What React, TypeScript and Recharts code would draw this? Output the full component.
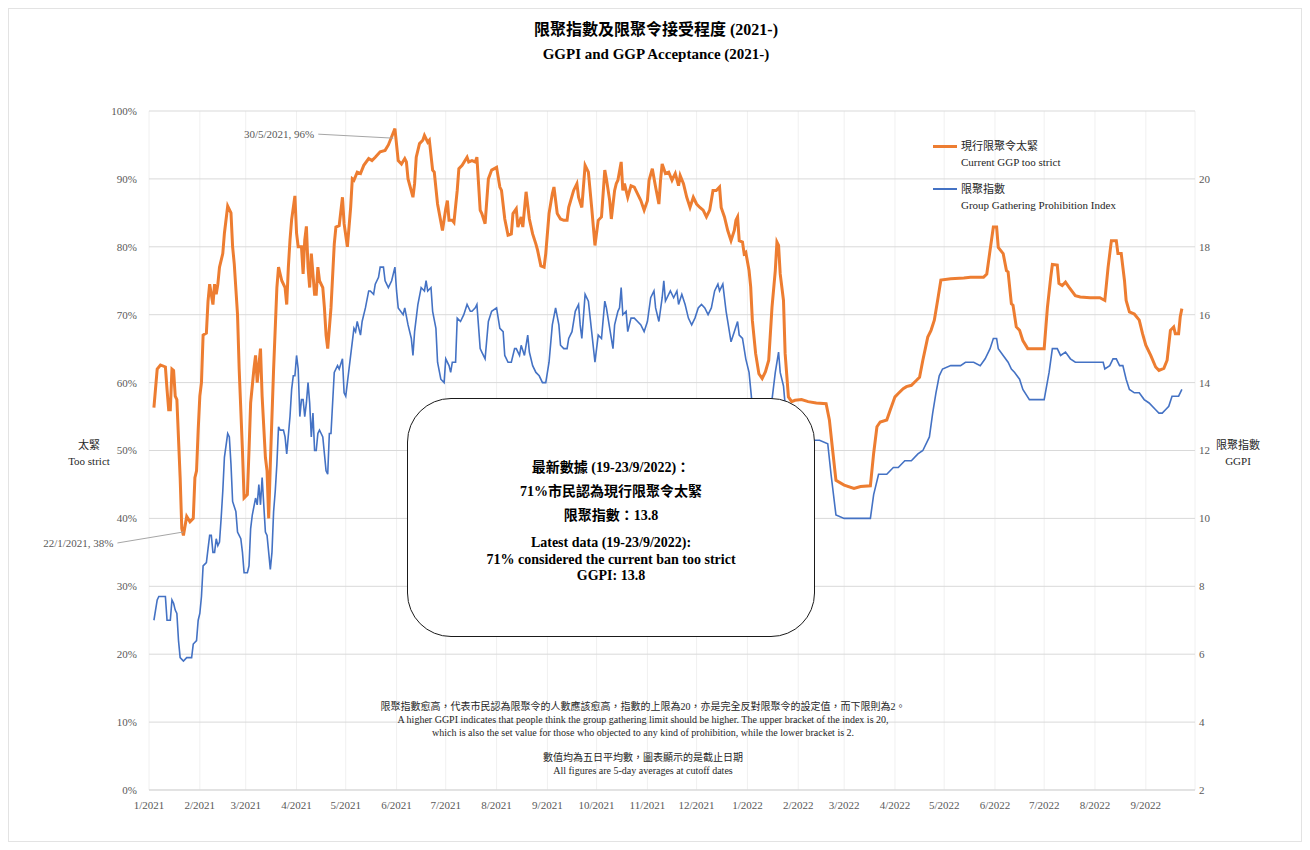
import React from 'react';
import { LineChart, Line, XAxis, YAxis, CartesianGrid, ReferenceDot } from 'recharts';

// x values are days counted from 1 Jan 2021
const strictDays = [
  3, 5, 7, 10, 11, 12, 13, 14, 15, 16, 17, 19, 20, 21, 23, 25, 27, 28, 29, 30, 31, 32, 33, 35, 36, 37, 39, 40, 41, 42, 43, 45, 46, 48, 50,
  51, 52, 54, 55, 57, 58, 60, 61, 62, 64, 65, 66, 68, 69, 71, 72, 73, 74, 76, 78, 79, 81, 83, 84, 85, 86, 87, 89, 90, 91, 93, 94, 95, 96,
  97, 98, 99, 101, 102, 103, 104, 106, 107, 108, 109, 111, 113, 114, 116, 118, 119, 121, 123, 124, 125, 127, 129, 131, 134, 136, 138, 141,
  144, 146, 148, 150, 152, 154, 156, 157, 158, 161, 162, 163, 165, 167, 168, 170, 171, 173, 174, 176, 179, 181, 182, 183, 185, 186, 188,
  189, 191, 194, 195, 197, 199, 200, 202, 203, 205, 207, 209, 212, 214, 215, 217, 219, 221, 222, 224, 225, 227, 228, 230, 232, 234, 236,
  237, 239, 241, 242, 244, 246, 247, 249, 251, 253, 255, 256, 259, 261, 262, 264, 266, 268, 270, 272, 274, 276, 278, 279, 281, 282, 284,
  285, 286, 288, 289, 290, 292, 294, 296, 298, 300, 302, 304, 305, 307, 309, 311, 312, 313, 315, 317, 319, 321, 323, 324, 326, 328, 330,
  332, 334, 336, 338, 340, 342, 344, 346, 348, 349, 351, 353, 355, 357, 358, 359, 360, 362, 363, 364, 366, 367, 368, 370, 372, 374, 376,
  378, 380, 382, 383, 384, 385, 387, 388, 390, 392, 394, 398, 402, 407, 413, 415, 417, 419, 424, 430, 434, 440, 442, 444, 446, 450, 452,
  455, 457, 460, 462, 465, 468, 470, 472, 475, 477, 479, 481, 483, 489, 497, 501, 509, 511, 513, 515, 517, 518, 521, 523, 524, 526, 527,
  529, 531, 533, 536, 541, 546, 548, 550, 551, 554, 555, 557, 559, 561, 565, 568, 574, 580, 583, 585, 587, 590, 591, 593, 595, 596, 598,
  601, 604, 606, 608, 611, 614, 616, 619, 621, 623, 625, 626, 628, 629, 630,
];
const strictPct = [
  56.3, 62, 62.6, 62.3, 59, 56, 56, 62, 61.8, 58, 57.5, 46, 38.5, 37.5, 40.3, 39.5, 40, 46, 47, 53, 58, 60, 67, 67.3, 72, 74.5, 71.5, 74.5,
  73, 74.5, 77, 79, 82, 86, 85, 80, 77.5, 70, 62, 50, 43, 43.5, 50, 57, 62, 64, 60, 65, 58, 49, 47, 40, 48, 62, 74, 77, 75, 74, 71.5, 77,
  81, 84, 87.5, 82, 80, 80, 76, 81, 83, 77, 74, 79, 73, 73, 77, 75, 74, 71, 67, 65, 71, 80.4, 82.9, 83.1, 87.3, 83.4, 80, 85.8, 90, 89.8,
  91, 90.8, 92, 93, 92.7, 93.2, 94, 94.2, 95, 96.2, 97.4, 92.7, 92.2, 93, 92.5, 90, 87.3, 89.3, 93.2, 95.2, 95.7, 96.4, 95.4, 95.7, 91.3,
  91, 86.3, 82.4, 85.6, 86.8, 83.9, 83.9, 83.6, 88.3, 91.5, 92, 93.2, 92.5, 92.7, 92.5, 93.2, 85.4, 84.9, 83.4, 90, 91.3, 91.7, 88.8,
  88.3, 84.1, 81.7, 81.9, 84.9, 85.6, 82.9, 84.4, 82.9, 88.1, 84.1, 81.9, 80.4, 79.5, 77.2, 77, 79, 84.9, 87.8, 88.8, 84.9, 84.1, 83.9,
  83.9, 85.8, 88.3, 89.3, 87.3, 85.8, 92, 91, 85.8, 80.2, 83.9, 84.4, 91.3, 90, 86.8, 84.1, 88.3, 89.3, 89.8, 92.5, 88.3, 89.3, 87.3, 89,
  88.8, 87.8, 86.8, 85.4, 86.8, 89.8, 91.5, 88.8, 86.3, 89.8, 92.2, 90.8, 91, 89.8, 90.8, 89, 90.5, 89.3, 87.3, 85.8, 87.3, 86.3, 85.8,
  85.4, 84.4, 85.4, 88.3, 88.3, 88.8, 85.8, 84.4, 82.4, 80.9, 82.4, 83.9, 84.4, 80.9, 80.7, 79, 79.2, 76.5, 74.1, 69.2, 64.3, 61.3, 60.6,
  61.6, 63.3, 71.1, 76.5, 80.7, 80.2, 76, 72.1, 64.3, 57.9, 57.2, 57.4, 57.5, 57.2, 57, 56.9, 54.5, 50, 45.6, 44.9, 44.4, 44.7, 44.8, 49.6,
  53.5, 54.2, 54.5, 55.9, 57.9, 58.4, 59.1, 59.4, 59.6, 60.3, 60.8, 63.3, 66.7, 67.7, 69.2, 72.1, 75.1, 75.3, 75.4, 75.5, 75.5, 76, 79.5,
  82.9, 82.9, 79.9, 79, 76.5, 76.3, 71.6, 71.4, 68.2, 67.7, 66.2, 65, 65, 65, 71.1, 75.5, 77.4, 77.3, 74.6, 74.3, 74.8, 74.1, 72.8, 72.6,
  72.5, 72.5, 72.1, 77, 80.9, 80.9, 79, 79, 75, 72.1, 70.4, 70.1, 69.2, 67.2, 65.5, 64, 62.3, 61.8, 62.1, 63.3, 67.7, 68.2, 67.2, 67.2,
  69.7, 70.9,
];

const ggpiDays = [
  3, 5, 6, 10, 11, 13, 14, 15, 16, 17, 18, 19, 21, 23, 26, 27, 29, 30, 31, 32, 33, 35, 36, 37, 38, 39, 40, 41, 42, 43, 44, 45, 46, 48, 49,
  50, 51, 53, 54, 55, 56, 57, 58, 60, 61, 62, 63, 65, 66, 67, 68, 69, 70, 71, 72, 73, 74, 75, 76, 77, 78, 79, 80, 82, 83, 84, 86, 87, 88,
  89, 90, 91, 92, 93, 94, 95, 96, 97, 98, 99, 100, 101, 102, 103, 104, 105, 106, 107, 108, 109, 110, 111, 113, 115, 116, 118, 119, 120,
  121, 123, 125, 126, 127, 129, 130, 132, 134, 135, 137, 138, 140, 141, 143, 144, 146, 148, 150, 151, 152, 155, 156, 158, 160, 161, 162,
  164, 166, 168, 169, 170, 172, 173, 175, 176, 178, 180, 181, 183, 184, 185, 187, 188, 190, 192, 194, 196, 197, 199, 200, 202, 203, 205,
  207, 209, 212, 214, 216, 217, 219, 221, 223, 224, 226, 227, 229, 231, 232, 234, 236, 238, 240, 242, 244, 246, 248, 250, 251, 253, 255,
  256, 258, 260, 262, 263, 264, 266, 268, 270, 272, 274, 276, 278, 279, 281, 283, 284, 286, 287, 288, 289, 291, 292, 294, 296, 298, 300,
  302, 304, 306, 308, 309, 311, 313, 314, 315, 318, 320, 322, 323, 325, 327, 329, 331, 333, 335, 337, 339, 341, 343, 345, 347, 348, 350,
  352, 353, 355, 357, 359, 360, 362, 364, 366, 368, 370, 372, 374, 376, 378, 380, 382, 384, 385, 387, 389, 391, 395, 400, 405, 409, 414,
  416, 419, 424, 430, 440, 442, 445, 450, 454, 457, 461, 465, 469, 472, 475, 476, 478, 480, 482, 484, 489, 495, 498, 503, 507, 510, 513,
  515, 517, 518, 521, 524, 526, 528, 531, 533, 537, 542, 546, 549, 551, 554, 556, 559, 562, 565, 572, 578, 582, 583, 586, 588, 590, 592,
  594, 596, 598, 601, 604, 607, 610, 614, 616, 618, 620, 622, 624, 626, 628, 630,
];
const ggpiValues = [
  7.0, 7.6, 7.7, 7.7, 7.0, 7.0, 7.6, 7.5, 7.3, 7.2, 6.4, 5.9, 5.8, 5.9, 5.9, 6.3, 6.4, 7.0, 7.2, 7.7, 8.6, 8.7, 9.1, 9.5, 9.5, 9.0, 9.0,
  9.4, 9.2, 9.3, 10.0, 10.8, 11.8, 12.5, 12.4, 11.6, 10.5, 10.2, 9.6, 9.5, 9.4, 9.0, 8.4, 8.4, 8.6, 9.7, 10.1, 10.6, 10.4, 11.0, 10.4,
  11.2, 10.4, 9.6, 9.5, 9.0, 8.5, 9.0, 10.2, 10.8, 11.6, 12.7, 12.6, 12.6, 12.4, 11.9, 13.0, 13.8, 14.2, 14.2, 14.8, 14.4, 13.0, 13.5,
  13.5, 13.0, 13.4, 14.0, 13.4, 12.4, 13.1, 12.0, 12.0, 12.5, 12.6, 12.5, 12.4, 11.9, 11.4, 11.3, 12.5, 12.5, 14.3, 14.5, 14.4, 14.7,
  13.7, 13.6, 14.0, 14.8, 15.6, 15.5, 15.8, 15.4, 15.8, 16.2, 16.7, 16.7, 16.6, 16.9, 17.1, 17.4, 17.4, 17.0, 16.8, 17.0, 17.4, 16.7,
  16.2, 16.0, 16.2, 15.7, 15.3, 14.8, 15.5, 16.3, 16.8, 16.7, 17.0, 16.7, 16.8, 16.1, 15.6, 14.6, 14.1, 14.0, 14.7, 14.5, 14.3, 14.6,
  14.6, 15.9, 15.8, 16.0, 16.3, 16.1, 16.1, 16.2, 16.3, 15.0, 14.9, 14.7, 15.8, 16.1, 16.2, 15.6, 15.5, 14.8, 14.6, 14.6, 15.0, 15.0,
  14.8, 15.1, 14.8, 15.4, 14.9, 14.5, 14.3, 14.2, 14.0, 14.0, 14.6, 15.7, 16.2, 15.7, 15.1, 15.0, 15.0, 15.3, 15.5, 16.1, 16.3, 15.7,
  15.3, 16.6, 16.4, 15.5, 14.6, 15.4, 15.3, 16.4, 16.2, 15.6, 15.0, 15.7, 16.1, 16.2, 16.8, 16.0, 16.1, 15.5, 15.9, 15.9, 15.8, 15.7,
  15.5, 15.8, 16.5, 16.7, 16.2, 15.8, 16.5, 17.0, 16.4, 16.7, 16.5, 16.7, 16.3, 16.6, 16.3, 15.9, 15.7, 15.9, 16.2, 16.3, 16.2, 16.0,
  16.2, 16.7, 16.9, 16.7, 16.9, 16.1, 15.8, 15.2, 15.5, 15.8, 15.4, 15.3, 14.7, 14.3, 13.3, 12.0, 11.2, 10.9, 11.0, 11.8, 13.5, 14.3,
  14.9, 14.3, 13.9, 12.8, 12.3, 12.3, 12.3, 12.3, 12.3, 12.2, 11.3, 10.1, 10.0, 10.0, 10.0, 10.7, 11.3, 11.3, 11.5, 11.5, 11.7, 11.7,
  11.9, 12.0, 12.3, 12.4, 13.1, 13.7, 14.2, 14.4, 14.5, 14.5, 14.6, 14.6, 14.5, 14.7, 15.0, 15.3, 15.3, 15.0, 14.8, 14.6, 14.4, 14.3,
  14.1, 13.8, 13.5, 13.5, 13.5, 14.3, 15.0, 15.0, 14.8, 14.9, 14.7, 14.6, 14.6, 14.6, 14.6, 14.4, 14.5, 14.7, 14.7, 14.5, 14.5, 14.1,
  13.8, 13.7, 13.7, 13.5, 13.4, 13.2, 13.1, 13.1, 13.2, 13.3, 13.6, 13.6, 13.6, 13.8,
];

const monthTicks = [0, 31, 59, 90, 120, 151, 181, 212, 243, 273, 304, 334, 365, 396, 424, 455, 485, 516, 546, 577, 608];
const monthLabels = [
  '1/2021', '2/2021', '3/2021', '4/2021', '5/2021', '6/2021', '7/2021', '8/2021', '9/2021', '10/2021', '11/2021', '12/2021',
  '1/2022', '2/2022', '3/2022', '4/2022', '5/2022', '6/2022', '7/2022', '8/2022', '9/2022',
];
const pctTicks = [0, 10, 20, 30, 40, 50, 60, 70, 80, 90, 100];
const ggpiTicks = [2, 4, 6, 8, 10, 12, 14, 16, 18, 20];

const strictData = strictDays.map((d, i) => ({ day: d, pct: strictPct[i] }));
const ggpiData = ggpiDays.map((d, i) => ({ day: d, ggpi: ggpiValues[i] }));

const ORANGE = '#ED7D31';
const BLUE = '#4472C4';
const SERIF = '"Liberation Serif", "Times New Roman", "Noto Sans CJK TC", serif';
const tickStyle = { fontFamily: SERIF, fontSize: 11, fill: '#595959' };

function Callout({ cx, cy, text, dx, dy }: any) {
  if (cx == null || cy == null) return null;
  return (
    <g>
      <line x1={cx + dx} y1={cy + dy} x2={cx} y2={cy} stroke="#a6a6a6" strokeWidth={1} />
      <text x={cx + dx - 4} y={cy + dy + 4} textAnchor="end" style={tickStyle}>
        {text}
      </text>
    </g>
  );
}

export default function App() {
  const abs = (l: number, t: number, extra: any = {}) => ({ position: 'absolute' as const, left: l, top: t, ...extra });
  return (
    <div style={{ position: 'relative', width: 1294, height: 834, fontFamily: SERIF, color: '#262626', border: '1px solid #e3e3e3', boxSizing: 'border-box' }}>
      <div style={abs(0, 9, { width: 1294, textAlign: 'center', fontWeight: 'bold', fontSize: 15, lineHeight: '24px', color: '#000' })}>
        <div style={{ fontSize: 16 }}>限聚指數及限聚令接受程度 (2021-)</div>
        <div>GGPI and GGP Acceptance (2021-)</div>
      </div>

      <div style={abs(0, 0)}>
        <LineChart width={1294} height={834} margin={{ top: 102, left: 90, right: 62, bottom: 25 }}>
          <CartesianGrid yAxisId="left" horizontal={false} vertical stroke="#f0f0f0" />
          <CartesianGrid yAxisId="left" horizontal vertical={false} stroke="#d9d9d9" />
          <XAxis
            dataKey="day"
            type="number"
            domain={[0, 638]}
            ticks={monthTicks}
            tickFormatter={(v: number) => monthLabels[monthTicks.indexOf(v)] ?? ''}
            interval={0}
            tick={tickStyle}
            tickLine={false}
            axisLine={{ stroke: '#d9d9d9' }}
            tickMargin={5}
            height={28}
          />
          <YAxis
            yAxisId="left"
            domain={[0, 100]}
            ticks={pctTicks}
            tickFormatter={(v: number) => `${v}%`}
            tick={tickStyle}
            tickLine={false}
            axisLine={false}
            width={50}
            tickMargin={6}
          />
          <YAxis
            yAxisId="right"
            orientation="right"
            domain={[2, 22]}
            ticks={ggpiTicks}
            tick={tickStyle}
            tickLine={false}
            tickSize={0}
            axisLine={false}
            width={46}
            tickMargin={4}
          />
          <Line
            yAxisId="right"
            data={ggpiData}
            dataKey="ggpi"
            stroke={BLUE}
            strokeWidth={1.6}
            dot={false}
            isAnimationActive={false}
          />
          <Line
            yAxisId="left"
            data={strictData}
            dataKey="pct"
            stroke={ORANGE}
            strokeWidth={3}
            dot={false}
            isAnimationActive={false}
          />
          <ReferenceDot
            yAxisId="left"
            x={149}
            y={96}
            r={0}
            shape={(p: any) => <Callout cx={p.cx} cy={p.cy} dx={-75} dy={-4} text="30/5/2021, 96%" />}
          />
          <ReferenceDot
            yAxisId="left"
            x={21}
            y={38}
            r={0}
            shape={(p: any) => <Callout cx={p.cx} cy={p.cy} dx={-66} dy={11} text="22/1/2021, 38%" />}
          />
        </LineChart>
      </div>

      {/* legend */}
      <div style={abs(924, 129, { fontSize: 11, lineHeight: '16px' })}>
        <div style={{ display: 'flex', alignItems: 'center' }}>
          <span style={{ display: 'inline-block', width: 24, height: 3, background: ORANGE, marginRight: 4 }} />
          <span>現行限聚令太緊</span>
        </div>
        <div style={{ marginLeft: 28 }}>Current GGP too strict</div>
        <div style={{ display: 'flex', alignItems: 'center', marginTop: 11 }}>
          <span style={{ display: 'inline-block', width: 24, height: 2, background: BLUE, marginRight: 4 }} />
          <span>限聚指數</span>
        </div>
        <div style={{ marginLeft: 28 }}>Group Gathering Prohibition Index</div>
      </div>

      {/* axis titles */}
      <div style={abs(40, 428, { width: 80, textAlign: 'center', fontSize: 11, lineHeight: '16px' })}>
        <div>太緊</div>
        <div>Too strict</div>
      </div>
      <div style={abs(1189, 428, { width: 80, textAlign: 'center', fontSize: 11, lineHeight: '16px' })}>
        <div>限聚指數</div>
        <div>GGPI</div>
      </div>

      {/* latest data box */}
      <div
        style={abs(398, 389, {
          width: 408,
          height: 239,
          boxSizing: 'border-box',
          background: '#fff',
          border: '1.5px solid #1a1a1a',
          borderRadius: 44,
          textAlign: 'center',
          fontWeight: 'bold',
          fontSize: 14,
          color: '#000',
          paddingTop: 57,
        })}
      >
        <div style={{ lineHeight: '24px' }}>最新數據 (19-23/9/2022)：</div>
        <div style={{ lineHeight: '24px' }}>71%市民認為現行限聚令太緊</div>
        <div style={{ lineHeight: '24px' }}>限聚指數：13.8</div>
        <div style={{ lineHeight: '16.5px', marginTop: 7 }}>Latest data (19-23/9/2022):</div>
        <div style={{ lineHeight: '16.5px' }}>71% considered the current ban too strict</div>
        <div style={{ lineHeight: '16.5px' }}>GGPI: 13.8</div>
      </div>

      {/* footnote */}
      <div style={abs(234, 691, { width: 800, textAlign: 'center', fontSize: 10, lineHeight: '13px', color: '#262626' })}>
        <div>限聚指數愈高，代表市民認為限聚令的人數應該愈高，指數的上限為20，亦是完全反對限聚令的設定值，而下限則為2。</div>
        <div>A higher GGPI indicates that people think the group gathering limit should be higher. The upper bracket of the index is 20,</div>
        <div>which is also the set value for those who objected to any kind of prohibition, while the lower bracket is 2.</div>
        <div style={{ marginTop: 12 }}>數值均為五日平均數，圖表顯示的是截止日期</div>
        <div>All figures are 5-day averages at cutoff dates</div>
      </div>
    </div>
  );
}
